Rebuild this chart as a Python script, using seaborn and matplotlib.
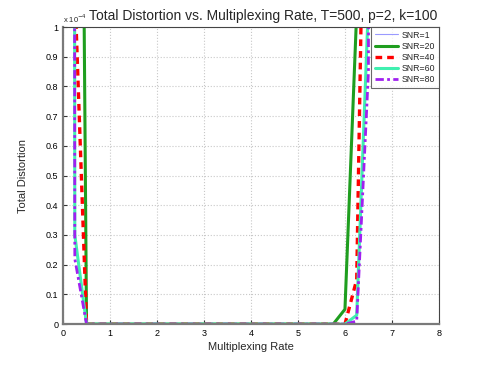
import matplotlib
matplotlib.use("Agg")
import matplotlib.pyplot as plt
import seaborn as sns
import pandas as pd

# values in units of 1e-4 (50 = far above the plotted range)
snr1_x = [0, 2, 4, 6, 8]
snr1_y = [50, 50, 50, 50, 50]

snr20_x = [0, 0.25, 0.5, 5.75, 6.0, 6.25, 6.5, 8]
snr20_y = [50, 5.0, 0, 0, 0.05, 1.05, 50, 50]

snr40_x = [0, 0.25, 0.5, 6.0, 6.25, 6.5, 6.75, 8]
snr40_y = [50, 1.13, 0, 0, 0.15, 2.5, 50, 50]

snr60_x = [0, 0.25, 0.5, 6.0, 6.25, 6.5, 6.75, 8]
snr60_y = [50, 0.3, 0, 0, 0.03, 1.08, 50, 50]

snr80_x = [0, 0.25, 0.5, 6.0, 6.25, 6.5, 6.75, 8]
snr80_y = [50, 0.22, 0, 0, 0.01, 0.85, 50, 50]

labels = ["SNR=1", "SNR=20", "SNR=40", "SNR=60", "SNR=80"]
series = [(snr1_x, snr1_y), (snr20_x, snr20_y), (snr40_x, snr40_y),
          (snr60_x, snr60_y), (snr80_x, snr80_y)]

colors = ["#9a9aff", "#1f9e1f", "#ff0000", "#3ff0b0", "#a020f0"]
styles = ["-", "-", (0, (2, 1.5)), "-", (0, (3, 1.2, 1, 1.2))]
widths = [0.8, 2.2, 2.4, 2.2, 2.0]

sns.set_style("ticks")
plt.rcParams["font.family"] = ["Liberation Sans", "DejaVu Sans"]

fig = plt.figure(figsize=(4.85, 3.65), dpi=100)
ax = fig.add_axes([0.13, 0.112, 0.775, 0.814])

for (xs, ys), lab, c, ls, lw in zip(series, labels, colors, styles, widths):
    df = pd.DataFrame({"rate": xs, "dist": ys})
    sns.lineplot(data=df, x="rate", y="dist", ax=ax, color=c, linestyle=ls,
                 linewidth=lw, label=lab, sort=False, estimator=None)

ax.set_xlim(0, 8)
ax.set_ylim(0, 1)
ax.set_xticks(range(0, 9))
ax.set_yticks([i / 10 for i in range(11)])
ax.set_yticklabels(["0"] + [f"{i/10:g}" for i in range(1, 11)])
ax.tick_params(direction="in", labelsize=6.5, length=3, colors="#333333",
               labelcolor="black")
ax.grid(True, linestyle=":", color="#c8c8c8", linewidth=0.8)
for side in ["top", "right"]:
    ax.spines[side].set_color("#444444")
    ax.spines[side].set_linewidth(0.8)
for side in ["left", "bottom"]:
    ax.spines[side].set_color("#7a7a7a")
    ax.spines[side].set_linewidth(1.6)

ax.set_xlabel("Multiplexing Rate", fontsize=8, labelpad=3)
ax.set_ylabel("Total Distortion", fontsize=8, labelpad=13)
ax.set_title("Total Distortion vs. Multiplexing Rate, T=500, p=2, k=100",
             fontsize=10, pad=5, x=0.532)
ax.text(0, 1.008, r"x 10$^{-4}$", transform=ax.transAxes, fontsize=5.5,
        ha="left", va="bottom")

leg = ax.legend(loc="upper right", fontsize=6.3, frameon=True, fancybox=False,
                borderaxespad=0, handlelength=2.6, handletextpad=0.5,
                labelspacing=0.25, borderpad=0.4)
leg.get_frame().set_edgecolor("#444444")
leg.get_frame().set_linewidth(0.8)

fig.savefig("out.png", dpi=100)
